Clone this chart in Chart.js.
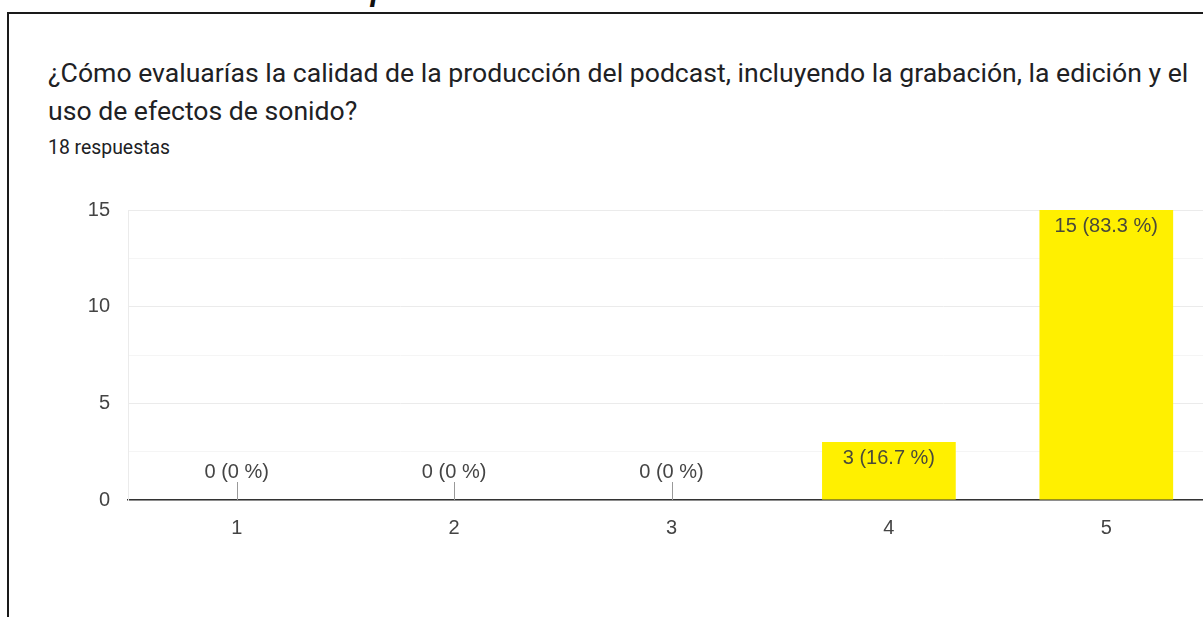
<!DOCTYPE html>
<html>
<head>
<meta charset="utf-8">
<script src="https://cdn.jsdelivr.net/npm/chart.js@4.4.1/dist/chart.umd.min.js"></script>
<style>
  html, body { margin: 0; padding: 0; background: #fff; overflow: hidden; width: 1203px; height: 617px; }
  #heading { position: absolute; left: 4px; top: -28px; font-family: "Liberation Sans", Arial, sans-serif; font-style: italic; font-weight: bold; font-size: 31px; line-height: 36px; color: #111; white-space: nowrap; }
  #frame { position: absolute; left: 7px; top: 12px; width: 1300px; height: 700px; border-left: 2px solid #1a1a1a; border-top: 2px solid #1a1a1a; background: #fff; }
  #title { position: absolute; left: 48px; top: 54px; font-family: Roboto, "Noto Sans", sans-serif; font-size: 26.6px; line-height: 38px; color: #202124; width: 1150px; }
  #sub { position: absolute; left: 48px; top: 136px; font-family: Roboto, "Noto Sans", sans-serif; font-size: 19.4px; color: #202124; }
  #wrap { position: absolute; left: 0; top: 180px; width: 1222px; height: 370px; }
</style>
</head>
<body>
<div id="heading">Gráfico 11. Calidad de la producción</div>
<div id="frame"></div>
<div id="title">¿Cómo evaluarías la calidad de la producción del podcast, incluyendo la grabación, la edición y el uso de efectos de sonido?</div>
<div id="sub">18 respuestas</div>
<div id="wrap"><canvas id="c" width="1222" height="370"></canvas></div>
<script>
const categories = ['1', '2', '3', '4', '5'];
const counts = [0, 0, 0, 3, 15];
const percents = ['0 %', '0 %', '0 %', '16.7 %', '83.3 %'];
const yTickValues = [0, 5, 10, 15];

const chartFont = '"Liberation Sans", Arial, sans-serif';

const valueLabels = {
  id: 'valueLabels',
  afterDatasetsDraw(chart) {
    const ctx = chart.ctx;
    const meta = chart.getDatasetMeta(0);
    ctx.save();
    ctx.font = '20px ' + chartFont;
    ctx.textAlign = 'center';
    ctx.textBaseline = 'middle';
    meta.data.forEach((bar, i) => {
      const txt = counts[i] + ' (' + percents[i] + ')';
      if (counts[i] > 0) {
        ctx.fillStyle = '#4a4a3a';
        ctx.fillText(txt, bar.x, bar.y + 16);
      } else {
        ctx.fillStyle = '#444';
        ctx.fillText(txt, bar.x, bar.base - 28);
        ctx.strokeStyle = '#999';
        ctx.lineWidth = 1;
        ctx.beginPath();
        ctx.moveTo(Math.round(bar.x) + 0.5, bar.base - 18);
        ctx.lineTo(Math.round(bar.x) + 0.5, bar.base);
        ctx.stroke();
      }
    });
    ctx.restore();
  }
};

new Chart(document.getElementById('c'), {
  type: 'bar',
  data: {
    labels: categories,
    datasets: [{
      data: counts,
      backgroundColor: '#fff000',
      borderWidth: 0,
      barPercentage: 0.615,
      categoryPercentage: 1.0
    }]
  },
  options: {
    responsive: false,
    animation: false,
    layout: { padding: { top: 27, right: 7, left: 0, bottom: 0 } },
    plugins: { legend: { display: false }, tooltip: { enabled: false } },
    scales: {
      x: {
        grid: { display: false, drawTicks: false },
        border: { display: true, color: '#333', width: 1.5 },
        ticks: { color: '#444', font: { family: chartFont, size: 20 }, padding: 16 },
        afterFit(s) { s.height = 50; }
      },
      y: {
        min: 0, max: 15,
        grid: {
          drawTicks: false,
          color(c) { return (c.tick && yTickValues.includes(c.tick.value)) ? '#ebebeb' : '#f5f5f5'; },
          lineWidth: 1
        },
        border: { display: true, color: '#ebebeb', width: 1 },
        ticks: {
          stepSize: 2.5,
          color: '#444',
          font: { family: chartFont, size: 20 },
          padding: 18,
          callback(v) { return yTickValues.includes(v) ? String(v) : ''; }
        },
        afterFit(s) { s.width = 128; }
      }
    }
  },
  plugins: [valueLabels]
});
</script>
</body>
</html>
